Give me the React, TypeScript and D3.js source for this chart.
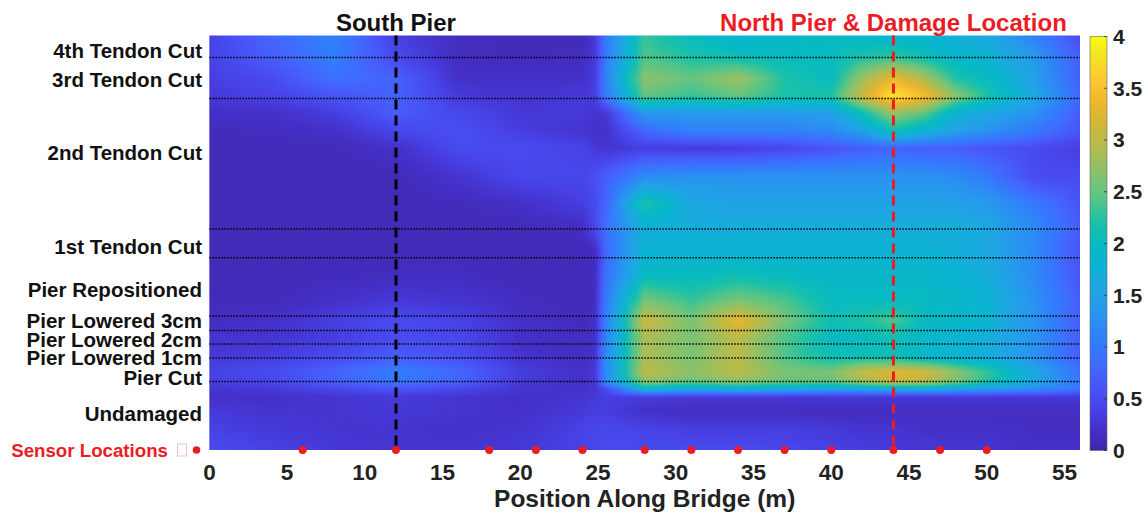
import React from "react";
import * as d3 from "d3";

const positions = [0, 4, 8, 12, 16, 20, 24, 24.8, 25.5, 28, 31, 34, 37, 40, 42, 44, 46, 48, 50, 53, 56];
// test sequence levels (0 = undamaged, 100 = after 4th tendon cut)
const levels = [0, 5, 9.5, 12.8, 14.7, 16.4, 18.8, 22.4, 27, 31.3, 36, 42, 48, 53.3, 59.5, 66, 72.8, 77, 81.4, 85.5, 89.6, 94.7, 100];
// damage indicator, one row per level, one value per position
const magnitude = [
  [0.5, 0.4, 0.3, 0.25, 0.25, 0.3, 0.4, 0.45, 0.5, 0.5, 0.5, 0.5, 0.45, 0.4, 0.35, 0.3, 0.3, 0.25, 0.25, 0.2, 0.2],
  [0.4, 0.3, 0.25, 0.25, 0.2, 0.25, 0.4, 0.45, 0.45, 0.4, 0.35, 0.35, 0.35, 0.3, 0.25, 0.25, 0.2, 0.2, 0.2, 0.15, 0.15],
  [0.3, 0.25, 0.25, 0.3, 0.25, 0.2, 0.3, 0.35, 0.35, 0.2, 0.15, 0.15, 0.15, 0.15, 0.15, 0.15, 0.15, 0.15, 0.15, 0.15, 0.15],
  [0.2, 0.2, 0.25, 0.3, 0.25, 0.2, 0.25, 0.3, 0.35, 0.35, 0.3, 0.3, 0.3, 0.3, 0.3, 0.3, 0.3, 0.3, 0.3, 0.3, 0.3],
  [0.25, 0.3, 0.45, 0.6, 0.45, 0.25, 0.2, 0.25, 0.5, 1.8, 1.6, 1.7, 1.6, 1.5, 1.5, 1.6, 1.6, 1.5, 1.4, 1.2, 0.9],
  [0.35, 0.45, 0.7, 0.95, 0.75, 0.3, 0.2, 0.3, 1.2, 2.7, 2.5, 2.7, 2.5, 2.5, 2.8, 3.05, 2.95, 2.6, 2.2, 1.6, 1.0],
  [0.4, 0.5, 0.75, 1.05, 0.8, 0.35, 0.2, 0.3, 1.2, 3.0, 2.7, 3.0, 2.6, 2.6, 3.05, 3.25, 3.15, 2.7, 2.3, 1.6, 0.9],
  [0.3, 0.35, 0.5, 0.7, 0.55, 0.25, 0.15, 0.25, 1.2, 2.9, 2.6, 3.0, 2.4, 2.1, 2.1, 2.1, 1.9, 1.8, 1.7, 1.3, 0.7],
  [0.25, 0.25, 0.35, 0.5, 0.45, 0.2, 0.15, 0.2, 1.1, 2.9, 2.6, 3.0, 2.4, 2.0, 2.0, 2.1, 1.9, 1.8, 1.7, 1.3, 0.7],
  [0.15, 0.2, 0.35, 0.5, 0.4, 0.2, 0.12, 0.2, 1.1, 3.1, 2.6, 3.3, 2.6, 2.1, 2.2, 2.4, 2.0, 1.9, 1.8, 1.3, 0.7],
  [0.12, 0.12, 0.2, 0.3, 0.25, 0.15, 0.1, 0.15, 1.0, 2.6, 2.3, 2.6, 2.4, 2.0, 2.0, 2.0, 2.0, 1.9, 1.8, 1.3, 0.7],
  [0.1, 0.1, 0.12, 0.15, 0.15, 0.1, 0.1, 0.15, 0.9, 2.0, 2.0, 2.1, 2.0, 1.9, 1.9, 1.9, 1.9, 1.8, 1.7, 1.2, 0.6],
  [0.1, 0.1, 0.1, 0.1, 0.1, 0.1, 0.1, 0.15, 0.8, 1.8, 1.8, 1.8, 1.8, 1.8, 1.8, 1.8, 1.8, 1.7, 1.6, 1.2, 0.6],
  [0.1, 0.1, 0.1, 0.1, 0.1, 0.1, 0.15, 0.45, 0.9, 1.7, 1.7, 1.7, 1.7, 1.7, 1.7, 1.7, 1.7, 1.7, 1.6, 1.2, 0.7],
  [0.1, 0.1, 0.1, 0.1, 0.12, 0.2, 0.35, 0.5, 0.8, 2.2, 1.6, 1.5, 1.5, 1.5, 1.5, 1.5, 1.5, 1.5, 1.4, 1.0, 0.6],
  [0.1, 0.1, 0.1, 0.1, 0.25, 0.45, 0.45, 0.55, 0.7, 1.2, 1.3, 1.3, 1.3, 1.3, 1.3, 1.3, 1.3, 1.2, 1.0, 0.5, 0.5],
  [0.1, 0.1, 0.12, 0.2, 0.5, 0.5, 0.4, 0.3, 0.25, 0.35, 0.3, 0.35, 0.45, 0.6, 0.7, 0.75, 0.7, 0.7, 0.6, 0.5, 0.35],
  [0.12, 0.15, 0.2, 0.45, 0.55, 0.35, 0.25, 0.2, 0.2, 0.8, 1.1, 1.1, 1.1, 1.2, 1.5, 2.1, 1.8, 1.5, 1.3, 1.0, 0.6],
  [0.2, 0.2, 0.35, 0.7, 0.45, 0.3, 0.3, 0.25, 0.3, 1.4, 1.4, 1.4, 1.4, 1.5, 2.1, 2.8, 2.5, 1.8, 1.6, 1.3, 0.7],
  [0.3, 0.4, 0.6, 0.75, 0.3, 0.25, 0.3, 0.35, 1.0, 2.5, 2.3, 2.5, 2.2, 2.2, 3.1, 3.85, 3.45, 2.7, 2.2, 1.6, 0.8],
  [0.35, 0.5, 0.9, 0.75, 0.2, 0.2, 0.2, 0.35, 1.1, 2.7, 2.5, 2.8, 2.2, 2.0, 2.8, 3.35, 2.9, 2.2, 2.0, 1.5, 0.7],
  [0.4, 0.7, 1.05, 0.5, 0.15, 0.12, 0.15, 0.3, 1.0, 2.4, 2.2, 2.1, 2.0, 2.0, 2.2, 2.3, 2.1, 1.9, 1.8, 1.4, 0.7],
  [0.4, 0.8, 1.1, 0.35, 0.15, 0.12, 0.12, 0.3, 1.0, 2.3, 2.0, 1.8, 1.9, 2.0, 1.9, 1.8, 1.8, 1.7, 1.6, 1.1, 0.5],
];

const stageLabels = ["Undamaged", "Pier Cut", "Pier Lowered 1cm", "Pier Lowered 2cm", "Pier Lowered 3cm",
  "Pier Repositioned", "1st Tendon Cut", "2nd Tendon Cut", "3rd Tendon Cut", "4th Tendon Cut"];
const stageTicks = [8.8, 17.4, 22.3, 26.7, 31.1, 38.6, 48.9, 71.6, 89.2, 96.2];
const stageBoundaries = [16.5, 22.2, 25.6, 28.8, 32.3, 46.4, 53.3, 84.8, 94.7];
const sensorPositions = [6, 12, 18, 21, 24, 28, 31, 34, 37, 40, 44, 47, 50];
const xTicks = [0, 5, 10, 15, 20, 25, 30, 35, 40, 45, 50, 55];
const colorTicks = [0, 0.5, 1, 1.5, 2, 2.5, 3, 3.5, 4];
// parula, sampled every 5 %
const parula = ["#3e26a8", "#4430c8", "#4742e6", "#4854f6", "#4367fd", "#337afd", "#2d8af4", "#259bec",
  "#1da8e0", "#0cb4d2", "#08bac1", "#1ac1a8", "#50c48a", "#7ac375", "#9cbf5f", "#bdba48", "#d9b534",
  "#f2b92c", "#fcca33", "#f3e423", "#f9fb0e"];

const W = 1148;
const H = 516;
const left = 209.4;
const right = 1080;
const top = 35.5;
const bottom = 450;
const font = "'Liberation Sans', Arial, sans-serif";
const red = "#ec1c24";

const x = d3.scaleLinear().domain([0, 56]).range([left, right]);
const y = d3.scaleLinear().domain([0, 100]).range([bottom, top]);
const color = d3.scaleLinear<string>()
  .domain(parula.map((_, i) => (4 * i) / (parula.length - 1)))
  .range(parula)
  .interpolate(d3.interpolateRgb)
  .clamp(true);
const cbar = d3.scaleLinear().domain([0, 4]).range([450.5, 36.5]);

function rowAt(v: number) {
  let i = d3.bisectRight(levels, v) - 1;
  i = Math.max(0, Math.min(levels.length - 2, i));
  const t = Math.max(0, Math.min(1, (v - levels[i]) / (levels[i + 1] - levels[i])));
  return positions.map((_, j) => magnitude[i][j] * (1 - t) + magnitude[i + 1][j] * t);
}

function stripStops(vals: number[]) {
  const stops: { off: number; c: string }[] = [];
  const sub = 4;
  for (let j = 0; j < positions.length - 1; j++) {
    for (let k = 0; k < sub; k++) {
      const f = k / sub;
      const p = positions[j] + (positions[j + 1] - positions[j]) * f;
      const v = vals[j] + (vals[j + 1] - vals[j]) * f;
      stops.push({ off: p / 56, c: color(v) });
    }
  }
  stops.push({ off: 1, c: color(vals[vals.length - 1]) });
  return stops;
}

const step = 2;
const strips = d3.range(top, bottom, step).map((py) => {
  const v = y.invert(Math.min(bottom, py + step / 2));
  return { py, stops: stripStops(rowAt(v)) };
});

export default function App() {
  return (
    <svg width={W} height={H} style={{ position: "absolute", left: 0, top: 0, background: "#fff" }} fontFamily={font}>
      <defs>
        {strips.map((s, i) => (
          <linearGradient key={i} id={`row${i}`} x1="0" x2="1" y1="0" y2="0">
            {s.stops.map((st, k) => (
              <stop key={k} offset={st.off} stopColor={st.c} />
            ))}
          </linearGradient>
        ))}
        <linearGradient id="cbar" x1="0" x2="0" y1="1" y2="0">
          {d3.range(0, 4.001, 0.0625).map((v) => (
            <stop key={v} offset={v / 4} stopColor={color(v)} />
          ))}
        </linearGradient>
      </defs>

      {/* heat map */}
      <g>
        {strips.map((s, i) => (
          <rect key={i} x={left} y={s.py} width={right - left}
            height={Math.min(step + 0.6, bottom - s.py)} fill={`url(#row${i})`} />
        ))}
      </g>

      {/* stage boundaries */}
      {stageBoundaries.map((b) => (
        <line key={b} x1={left} x2={right} y1={y(b)} y2={y(b)} stroke="#000"
          strokeWidth={1.5} strokeDasharray="1.5 1.5" />
      ))}

      {/* piers */}
      <line x1={x(12)} x2={x(12)} y1={top} y2={bottom} stroke="#000" strokeWidth={3} strokeDasharray="10 6" />
      <line x1={x(44)} x2={x(44)} y1={top} y2={bottom} stroke={red} strokeWidth={3} strokeDasharray="10 6" />
      <text x={x(12)} y={31} textAnchor="middle" fontSize={24} fontWeight="bold" fill="#111">South Pier</text>
      <text x={x(44)} y={31} textAnchor="middle" fontSize={24} fontWeight="bold" fill={red}>North Pier &amp; Damage Location</text>

      {/* sensors */}
      {sensorPositions.map((p) => (
        <circle key={p} cx={x(p)} cy={y(0)} r={4} fill={red} />
      ))}

      {/* x axis */}
      {xTicks.map((t) => (
        <text key={t} x={x(t)} y={480} textAnchor="middle" fontSize={22.5} fontWeight="bold" fill="#222">{t}</text>
      ))}
      <text x={(left + right) / 2} y={507} textAnchor="middle" fontSize={24.5} fontWeight="bold" fill="#222">
        Position Along Bridge (m)
      </text>

      {/* y axis */}
      {stageLabels.map((l, i) => (
        <text key={l} x={202} y={y(stageTicks[i])} dy="0.35em" textAnchor="end" fontSize={20.5}
          fontWeight="bold" fill="#111">{l}</text>
      ))}
      <text x={168} y={y(0)} dy="0.35em" textAnchor="end" fontSize={18.7} fontWeight="bold" fill={red}>
        Sensor Locations
      </text>
      <rect x={177.5} y={y(0) - 6} width={9} height={12} fill="none" stroke="#efc4c4" strokeWidth={1} />
      <circle cx={196.5} cy={y(0)} r={3.8} fill={red} />

      {/* colour bar */}
      <rect x={1090} y={cbar(4)} width={17} height={cbar(0) - cbar(4)} fill="url(#cbar)" stroke="#666" strokeWidth={0.6} />
      {colorTicks.map((t) => (
        <g key={t}>
          <line x1={1107} x2={1104} y1={cbar(t)} y2={cbar(t)} stroke="#333" strokeWidth={0.8} />
          <text x={1113} y={cbar(t)} dy="0.35em" fontSize={21} fontWeight="bold" fill="#222">{t}</text>
        </g>
      ))}
    </svg>
  );
}
